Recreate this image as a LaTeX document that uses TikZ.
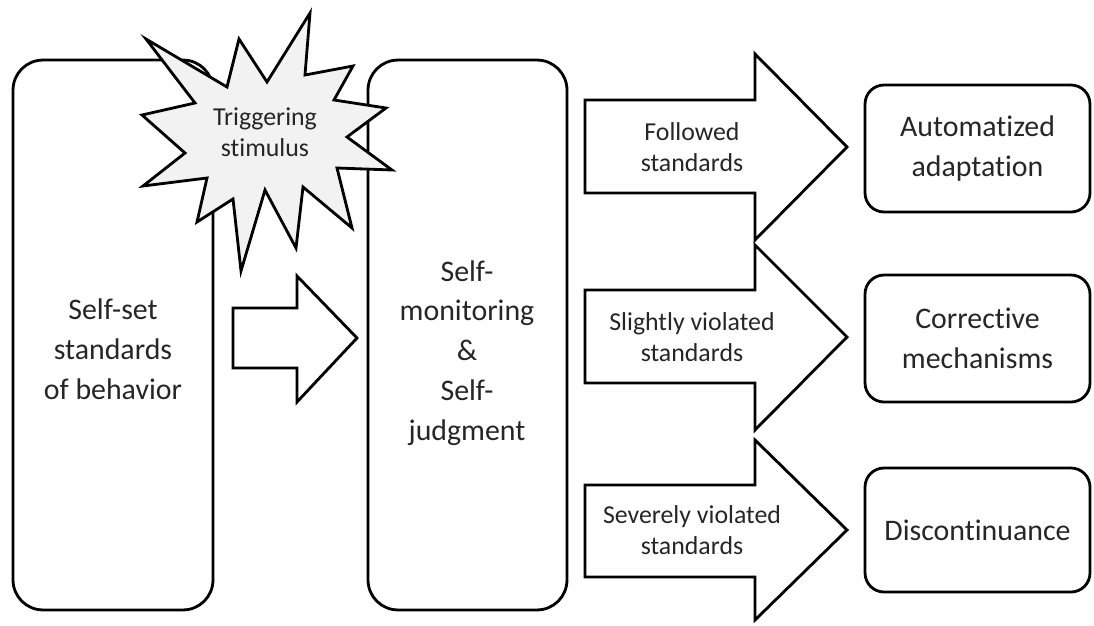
\documentclass[tikz,border=0pt]{standalone}
\usepackage{fontspec}
\setmainfont[Ligatures=NoCommon]{Carlito}
\begin{document}
\begin{tikzpicture}[x=0.02cm, y=-0.02cm, line width=1.6pt,
    bigbox/.style={draw, rounded corners=0.6cm, minimum width=4cm, minimum height=11cm},
    endbox/.style={draw, rounded corners=0.38cm, minimum width=4.5cm, minimum height=2.54cm,
        align=center, font=\fontsize{17}{22.7}\selectfont, text=black!85},
    boxtext/.style={align=center, font=\fontsize{17}{22.7}\selectfont, text=black!85},
    arrowtext/.style={align=center, font=\fontsize{14.7}{17.5}\selectfont, text=black!85},
    blockarrow/.style={draw, fill=white, line join=miter}]
    \useasboundingbox (0,0) rectangle (1094,625);

    % Draw the two tall boxes
    \node[bigbox] (standards) at (113,335) {};
    \node[boxtext] (standardstext) at (113,349) {Self-set\\standards\\of behavior};
    \node[bigbox, minimum width=3.98cm] (monitoring) at (467.5,335) {};
    \node[boxtext] (monitoringtext) at (467,353) {Self-\\monitoring\\\&\\Self-\\judgment};

    % Draw the small arrow between the tall boxes
    \draw[blockarrow] (233,308) -- (297,308) -- (297,276) -- (357,338) -- (297,402) -- (297,368) -- (233,368) -- cycle;

    % Draw the triggering star
    \draw[fill=black!5, line join=miter] (146,39) -- (227,87) -- (239,39) -- (267,82) -- (310,13) -- (305,75)
        -- (353,66) -- (334,100) -- (386,108) -- (347,137) -- (392,170) -- (337,168)
        -- (352,228) -- (303,187) -- (296,248) -- (265,190) -- (241,271) -- (233,199)
        -- (197,222) -- (207,178) -- (143,186) -- (185,153) -- (142,115) -- (195,103) -- cycle;
    \node[arrowtext] (trigger) at (265,132) {Triggering\\stimulus};

    % Draw the three big arrows
    \draw[blockarrow] (585,100) -- (755,100) -- (755,54) -- (847,147) -- (755,240) -- (755,193) -- (585,193) -- cycle;
    \node[arrowtext] (followed) at (692,147) {Followed\\standards};

    \draw[blockarrow] (585,290) -- (755,290) -- (755,245) -- (847,337) -- (755,430) -- (755,383) -- (585,383) -- cycle;
    \node[arrowtext] (slightly) at (692,337) {Slightly violated\\standards};

    \draw[blockarrow] (585,485) -- (755,485) -- (755,440) -- (847,530) -- (755,620) -- (755,577) -- (585,577) -- cycle;
    \node[arrowtext] (severely) at (692,530) {Severely violated\\standards};

    % Draw the outcome boxes
    \node[endbox] (automatized) at (977.5,148.5) {Automatized\\adaptation};
    \node[endbox] (corrective) at (977.5,338.5) {Corrective\\mechanisms};
    \node[endbox, minimum height=2.48cm] (discontinuance) at (977.5,530) {Discontinuance};
\end{tikzpicture}
\end{document}
